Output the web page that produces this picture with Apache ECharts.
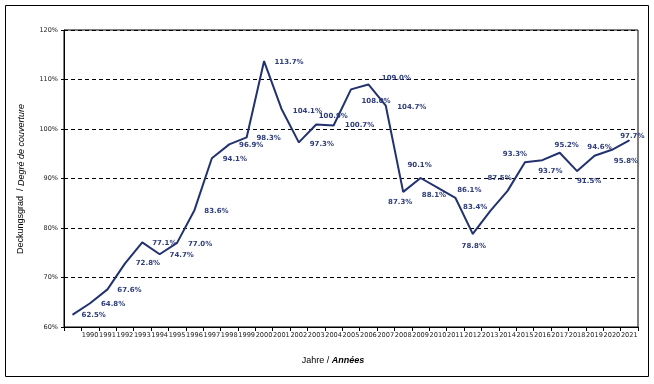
<!DOCTYPE html>
<html>
<head>
<meta charset="utf-8">
<script src="https://cdn.jsdelivr.net/npm/echarts@6/dist/echarts.min.js"></script>
<style>html,body{margin:0;padding:0;background:#fff}#c{width:654px;height:384px}</style>
</head>
<body>
<div id="c"></div>
<script>
// categories (first slot unlabeled, as in the reference)
const years = ['', '1990','1991','1992','1993','1994','1995','1996','1997','1998','1999','2000','2001','2002','2003','2004','2005','2006','2007','2008','2009','2010','2011','2012','2013','2014','2015','2016','2017','2018','2019','2020','2021'];
// coverage ratio in percent
const coverage = [62.5,64.8,67.6,72.8,77.1,74.7,77.0,83.6,94.1,96.9,98.3,113.7,104.1,97.3,100.9,100.7,108.0,109.0,104.7,87.3,90.1,88.1,86.1,78.8,83.4,87.5,93.3,93.7,95.2,91.5,94.6,95.8,97.7];
// y tick labels
const yTicks = [60,70,80,90,100,110,120];

// label placement (style only), pixel offsets from each point
const labelOffsets = [[21,1],[23,1],[22,1],[23,0],[22,1],[22,1],[23,1],[22,1],[23,1],[22,1],[22,1],[25,1],[26,2],[23,2],[17,-8],[26,0],[25,12],[28,-6],[26,1],[-3,10],[-1,-13],[-4,7],[14,-8],[1,12],[-15,-4],[-8,-13],[-10,-8],[8,11],[7,-8],[12,10],[5,-9],[14,11],[3,-4]];

const lineColor = '#22326F';
const labelColor = '#2D3C7C';

const seriesData = coverage.map((v, i) => ({
  value: v,
  label: { offset: labelOffsets[i] }
}));

const chart = echarts.init(document.getElementById('c'), null, {renderer: 'canvas'});
chart.setOption({
  animation: false,
  backgroundColor: '#fff',
  grid: { left: 64, top: 30, right: 16, bottom: 57, show: true, borderColor: '#000', borderWidth: 1, backgroundColor: 'transparent' },
  xAxis: {
    type: 'category',
    data: years,
    boundaryGap: true,
    axisLine: { lineStyle: { color: '#000', width: 1 } },
    axisTick: { show: true, length: 4, interval: 0, lineStyle: { color: '#000' } },
    axisLabel: { interval: 0, fontSize: 6.6, fontFamily: 'DejaVu Sans', color: '#222', margin: 5 },
    splitLine: { show: false }
  },
  yAxis: {
    type: 'value',
    min: yTicks[0],
    max: yTicks[yTicks.length - 1],
    interval: 10,
    axisLine: { show: true, lineStyle: { color: '#000', width: 1 } },
    axisTick: { show: true, length: 3, lineStyle: { color: '#000' } },
    axisLabel: { formatter: '{value}%', fontSize: 6.5, fontFamily: 'DejaVu Sans', color: '#222', margin: 6 },
    splitLine: { show: true, lineStyle: { color: '#000', type: [4, 3], width: 1 } }
  },
  series: [{
    type: 'line',
    data: seriesData,
    symbol: 'circle',
    symbolSize: 1,
    showSymbol: true,
    itemStyle: { color: lineColor },
    lineStyle: { color: lineColor, width: 2 },
    label: {
      show: true,
      position: 'inside',
      formatter: p => p.value.toFixed(1) + '%',
      fontSize: 7,
      fontWeight: 'bold',
      fontFamily: 'DejaVu Sans',
      color: labelColor
    }
  }],
  graphic: [
    { type: 'rect', shape: { x: 5.5, y: 5.5, width: 643, height: 371 }, style: { fill: 'none', stroke: '#000', lineWidth: 1 }, silent: true },
    { type: 'text', x: 333, y: 361, style: {
        text: '{a|Jahre / }{b|Années}',
        align: 'center', verticalAlign: 'middle',
        rich: {
          a: { fontSize: 9, fontFamily: 'Liberation Sans', fill: '#000' },
          b: { fontSize: 9, fontFamily: 'Liberation Sans', fontStyle: 'italic', fontWeight: 'bold', fill: '#000' }
        }
    } },
    { type: 'text', x: 21, y: 179, rotation: Math.PI / 2, style: {
        text: '{a|Deckungsgrad  / }{b|Degré de couverture}',
        align: 'center', verticalAlign: 'middle',
        rich: {
          a: { fontSize: 9, fontFamily: 'Liberation Sans', fill: '#000' },
          b: { fontSize: 9, fontFamily: 'Liberation Sans', fontStyle: 'italic', fill: '#000' }
        }
    } }
  ]
});
</script>
</body>
</html>
